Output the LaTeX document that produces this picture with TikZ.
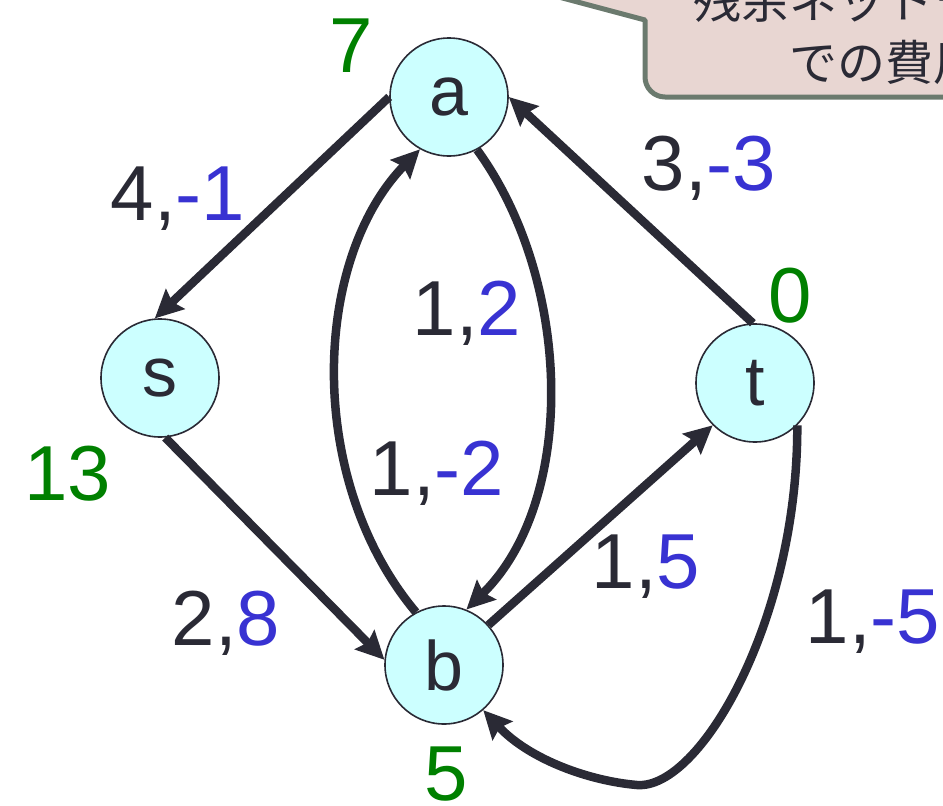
\documentclass[tikz,border=0pt]{standalone}
\usepackage{fontspec}
\setmainfont{Liberation Sans}
\newfontfamily\cjk{Noto Sans CJK JP}
\usetikzlibrary{arrows.meta}
\definecolor{edgec}{RGB}{42,42,53}
\definecolor{bluec}{RGB}{56,50,210}
\definecolor{greenc}{RGB}{0,128,0}
\definecolor{nodefill}{RGB}{204,255,255}
\definecolor{callfill}{RGB}{232,214,210}
\definecolor{callline}{RGB}{107,122,110}
\tikzset{
  vert/.style={circle, draw=edgec, line width=1.6pt, fill=nodefill, minimum size=118pt, inner sep=0pt, font=\fontsize{70}{80}\selectfont, text=edgec},
  arc/.style={draw=edgec, line width=8.5pt, -{Stealth[length=28pt,width=27pt,inset=4pt]}},
  elab/.style={anchor=base, inner sep=0pt, font=\fontsize{78}{90}\selectfont, text=edgec},
  pot/.style={anchor=base, inner sep=0pt, font=\fontsize{78}{90}\selectfont, text=greenc},
  calltext/.style={anchor=base, inner sep=0pt, font=\cjk\fontsize{48}{56}\selectfont, text=edgec}
}
\begin{document}
\begin{tikzpicture}[x=1pt,y=-1pt]
\useasboundingbox (0,0) rectangle (943,806);
\clip (0,0) rectangle (943,806);
% callout
\draw[callline, line width=5pt, fill=callfill, line join=round]
  (540,-8) -- (645,20) {[rounded corners=20pt] -- (645,97) -- (980,97)} -- (980,-60) -- (540,-60) -- cycle;
\node[calltext] (c1) at (885,18) {残余ネットワーク};
\node[calltext] (c2) at (885,80) {での費用};
% vertices
\node[vert] (a) at (449,97) {a};
\node[vert] (s) at (160,378) {s};
\node[vert] (t) at (755,383) {t};
\node[vert] (b) at (444,665) {b};
% edges
\draw[arc] (a.180) -- (s.95);
\draw[arc] (s.-85) -- (b.175);
\draw[arc] (t.92) -- (a.0);
\draw[arc] (b.42) -- (t.225);
\draw[arc] (b.118) .. controls (305,480) and (312,260) .. (a.241);
\draw[arc] (a.-62) .. controls (572,280) and (578,500) .. (b.68);
\draw[arc] (t.-45) .. controls (798,620) and (700,790) .. (637,785) .. controls (590,781) and (530,760) .. (b.-49);
% edge labels
\node[elab] (l1) at (178,220) {4,\textcolor{bluec}{-1}};
\node[elab] (l2) at (709,190) {3,\textcolor{bluec}{-3}};
\node[elab] (l3) at (467,335) {1,\textcolor{bluec}{2}};
\node[elab] (l4) at (437,495) {1,\textcolor{bluec}{-2}};
\node[elab] (l5) at (226,645) {2,\textcolor{bluec}{8}};
\node[elab] (l6) at (646,588) {1,\textcolor{bluec}{5}};
\node[elab] (l7) at (873,643) {1,\textcolor{bluec}{-5}};
% potentials
\node[pot] (pa) at (351,72) {7};
\node[pot] (ps) at (68,500) {13};
\node[pot] (pt) at (790,322) {0};
\node[pot] (pb) at (446,800) {5};
\end{tikzpicture}
\end{document}
